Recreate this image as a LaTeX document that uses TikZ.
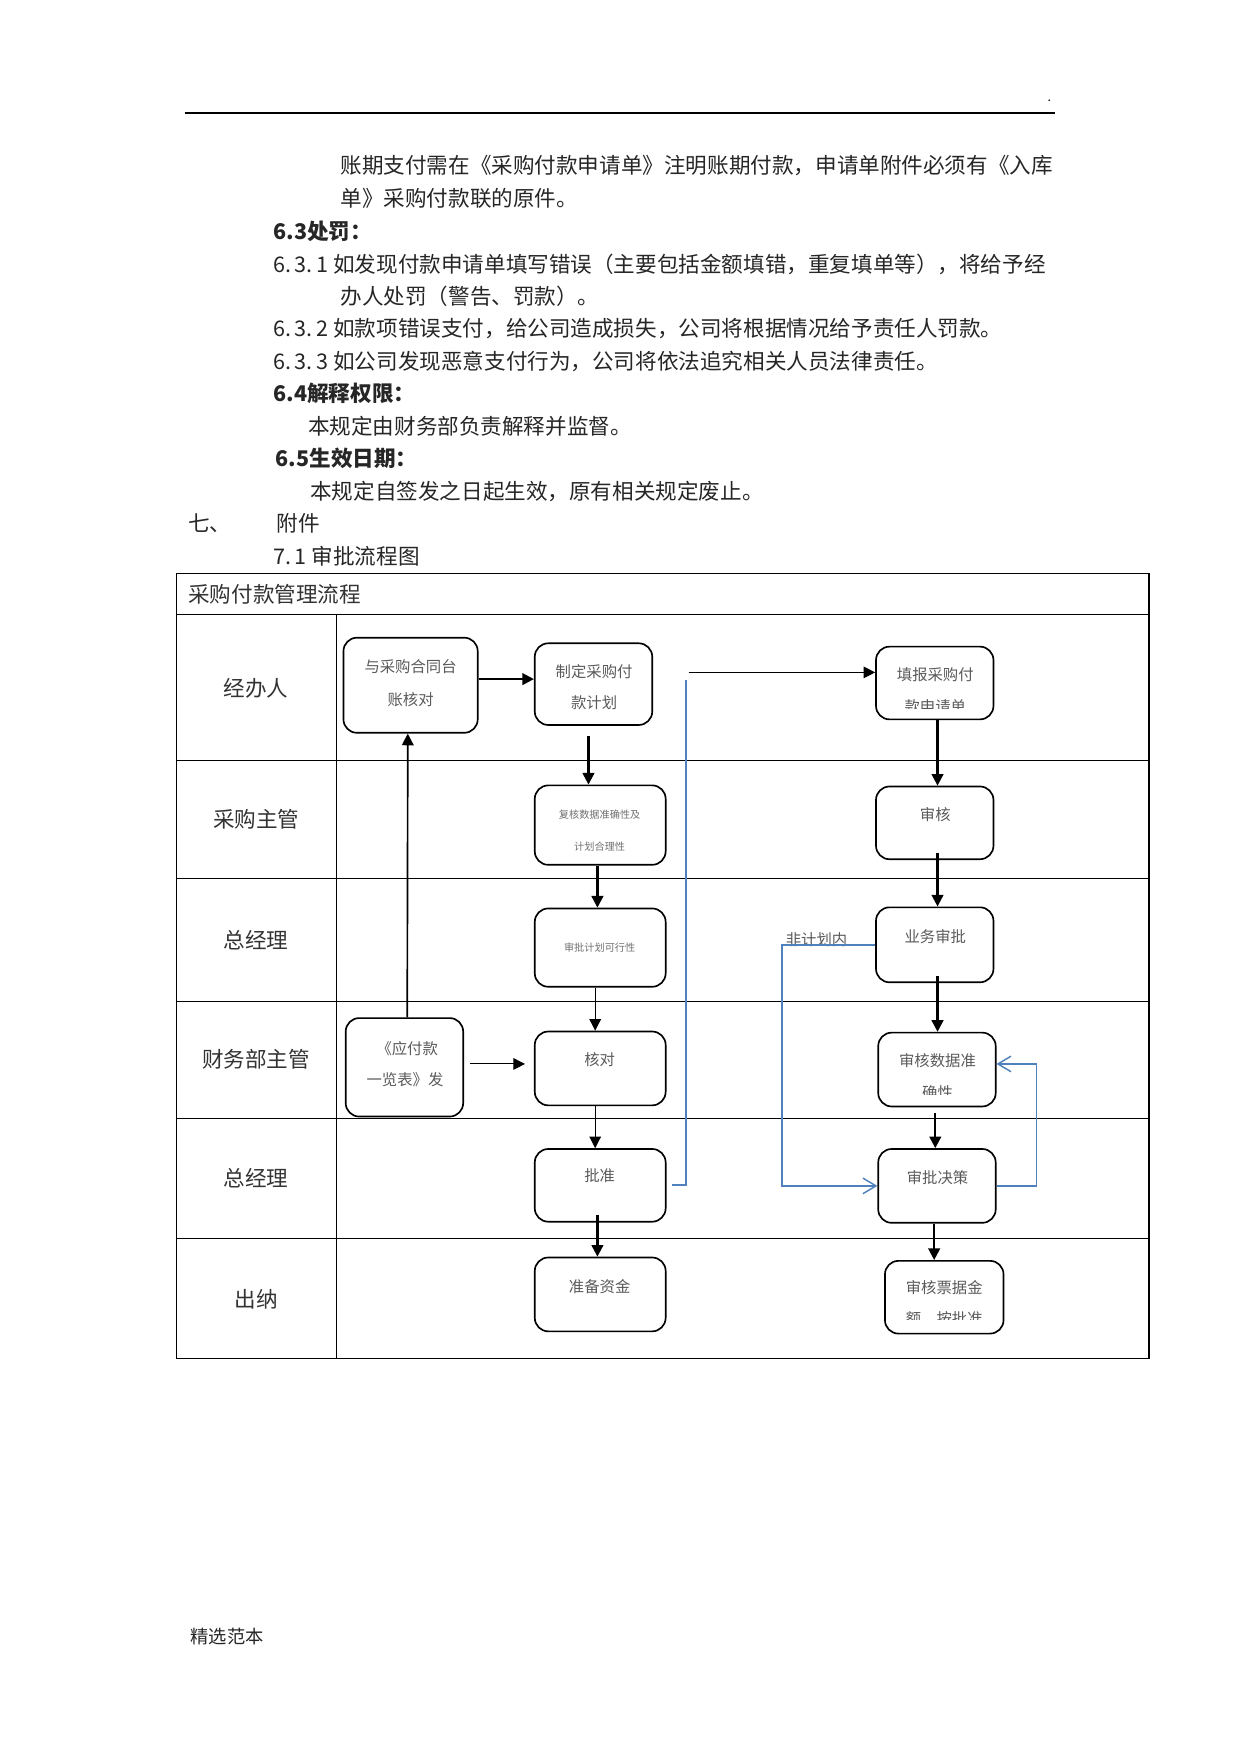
\documentclass[tikz,border=0pt]{standalone}
\usepackage{fontspec}
\setmainfont{Noto Sans CJK SC}
\usetikzlibrary{arrows.meta,calc,fit}
\definecolor{bodytext}{HTML}{262626}
\definecolor{lanetext}{HTML}{333333}
\definecolor{boxtext}{HTML}{5A5A5A}
\definecolor{tinytext}{HTML}{707070}
\definecolor{flowblue}{HTML}{4F81BD}
\begin{document}
\begin{tikzpicture}[x=0.18944mm,y=-0.18944mm,
  body/.style={anchor=west,inner sep=0pt,text=bodytext,font=\fontsize{10.4pt}{12pt}\selectfont},
  headline/.style={anchor=west,inner sep=0pt,text=bodytext,font=\fontsize{10.4pt}{12pt}\selectfont\bfseries},
  lane/.style={inner sep=0pt,text=lanetext,font=\fontsize{10.4pt}{12pt}\selectfont},
  tabline/.style={line width=0.5pt,black},
  flowbox/.style={draw,line width=0.8pt,rounded corners=6.5pt,inner sep=0pt},
  btxt/.style={inner sep=0pt,text=boxtext,font=\fontsize{7.4pt}{9pt}\selectfont},
  tiny/.style={inner sep=0pt,text=tinytext,font=\fontsize{4.9pt}{6pt}\selectfont},
  thickarr/.style={line width=1.1pt,-{Triangle[length=5.6pt,width=5.6pt]}},
  midarr/.style={line width=0.8pt,-{Triangle[length=5.6pt,width=5.6pt]}},
  thinarr/.style={line width=0.5pt,-{Triangle[length=5.6pt,width=5.6pt]}},
  blueline/.style={line width=0.7pt,flowblue},
  bluearr/.style={line width=0.7pt,flowblue,-{Straight Barb[length=6.3pt,width=7.5pt]}}
]
\useasboundingbox (0,0) rectangle (1108.5,1567.8);

% header
\draw[line width=0.5pt] (165,101) coordinate (hl) -- (943,101) coordinate (hr);
\node[inner sep=0pt,font=\fontsize{6pt}{7pt}\selectfont] (hdot) at (938,90) {.};

% body text
\node[body] (t1) at (304,148) {账期支付需在《采购付款申请单》注明账期付款，申请单附件必须有《入库};
\node[body] (t2) at (304,177) {单》采购付款联的原件。};
\node[headline] (t3) at (244,207) {6.3处罚：};
\node[body] (t4) at (244,236) {6.\,3.\,1 如发现付款申请单填写错误（主要包括金额填错，重复填单等），将给予经};
\node[body] (t5) at (304,265) {办人处罚（警告、罚款）。};
\node[body] (t6) at (244,294) {6.\,3.\,2 如款项错误支付，给公司造成损失，公司将根据情况给予责任人罚款。};
\node[body] (t7) at (244,323) {6.\,3.\,3 如公司发现恶意支付行为，公司将依法追究相关人员法律责任。};
\node[headline] (t8) at (244,352) {6.4解释权限：};
\node[body] (t9) at (275,381) {本规定由财务部负责解释并监督。};
\node[headline] (t10) at (246,410) {6.5生效日期：};
\node[body] (t11) at (277,439) {本规定自签发之日起生效，原有相关规定废止。};
\node[body] (t12a) at (168,468) {七、};
\node[body] (t12b) at (247,468) {附件};
\node[body] (t13) at (244,497) {7.\,1 审批流程图};

% table
\draw[tabline] (158,513) rectangle (1027,1214);
\draw[tabline] (158,549) -- (1027,549);
\draw[tabline] (301,549) -- (301,1214);
\foreach \yy in {680,785,895,1000,1107} {\draw[tabline] (158,\yy) -- (1027,\yy);}
\node[lane,anchor=west] (title) at (168,531) {采购付款管理流程};
\node[lane] (l1) at (229,615) {经办人};
\node[lane] (l2) at (229,732) {采购主管};
\node[lane] (l3) at (229,840) {总经理};
\node[lane] (l4) at (229,947) {财务部主管};
\node[lane] (l5) at (229,1053) {总经理};
\node[lane] (l6) at (229,1161) {出纳};

% boxes
\node[flowbox,fit={(307,570) (427,655)}] (A) {};
\node[flowbox,fit={(478,575) (583,648)}] (B) {};
\node[flowbox,fit={(783,578) (888,643)}] (C) {};
\node[flowbox,fit={(478,702) (595,773)}] (D) {};
\node[flowbox,fit={(478,812) (595,882)}] (E) {};
\node[flowbox,fit={(478,922) (595,988)}] (F) {};
\node[flowbox,fit={(478,1027) (595,1092)}] (G) {};
\node[flowbox,fit={(478,1124) (595,1190)}] (H) {};
\node[flowbox,fit={(309,910) (414,998)}] (I) {};
\node[flowbox,fit={(783,703) (888,768)}] (J) {};
\node[flowbox,fit={(783,811) (888,878)}] (K) {};
\node[flowbox,fit={(785,923) (890,989)}] (L) {};
\node[flowbox,fit={(785,1027) (890,1093)}] (M) {};
\node[flowbox,fit={(791,1127) (897,1192)}] (N) {};

% box texts
\node[btxt] (A1) at (367,596) {与采购合同台};
\node[btxt] (A2) at (367,625) {账核对};
\node[btxt] (B1) at (531,600) {制定采购付};
\node[btxt] (B2) at (531,628) {款计划};
\node[btxt] (C1) at (836,603) {填报采购付};
\begin{scope}
  \clip (784,610) rectangle (887,633);
  \node[btxt] (C2) at (836,632) {款申请单};
\end{scope}
\node[tiny] (D1) at (536,728) {复核数据准确性及};
\node[tiny] (D2) at (536,757) {计划合理性};
\node[tiny] (E1) at (536,847) {审批计划可行性};
\node[btxt] (F1) at (536,947) {核对};
\node[btxt] (G1) at (536,1051) {批准};
\node[btxt] (H1) at (536,1150) {准备资金};
\node[btxt] (I1) at (364,937) {《应付款};
\node[btxt] (I2) at (362,965) {一览表》发};
\node[btxt] (J1) at (836,728) {审核};
\node[btxt] (K1) at (836,837) {业务审批};
\node[btxt] (L1) at (838,948) {审核数据准};
\begin{scope}
  \clip (786,960) rectangle (889,978);
  \node[btxt] (L2) at (838,977) {确性};
\end{scope}
\node[btxt] (M1) at (838,1053) {审批决策};
\node[btxt] (N1) at (844,1151) {审核票据金};
\begin{scope}
  \clip (792,1165) rectangle (896,1179);
  \node[btxt] (N2) at (844,1179) {额，按批准};
\end{scope}
\node[btxt,anchor=west] (nplan) at (702,840) {非计划内};

% black connectors
\draw[thickarr] ($(A.east)+(0,-5.5)$) -- ($(B.west)+(0,-4.5)$);
\draw[thickarr] ($(B.south)+(-4.5,9)$) -- ($(D.north)+(-10.5,0)$);
\draw[thickarr] ($(D.south)+(-2.5,0)$) -- ($(E.north)+(-2.5,0)$);
\draw[thinarr] ($(E.south)+(-4.5,0)$) -- ($(F.north)+(-4.5,0)$);
\draw[thinarr] ($(F.south)+(-4.5,0)$) -- ($(G.north)+(-4.5,0)$);
\draw[thickarr] ($(G.south)+(-2.5,-7)$) -- ($(H.north)+(-2.5,0)$);
\draw[midarr] ($(I.north)+(2.5,0)$) -- ($(A.south)+(-2.5,0)$);
\draw[thinarr] ($(I.east)+(5.5,-3)$) -- ($(F.west)+(-8,-4)$);
\coordinate (cstart) at (615.5,601);
\draw[thinarr] (cstart) -- ($(C.west)+(0,-9.5)$);
\draw[thickarr] ($(C.south)+(2.5,0)$) -- ($(J.north)+(2.5,0)$);
\draw[thickarr] ($(J.south)+(2.5,-6)$) -- ($(K.north)+(2.5,0)$);
\draw[thickarr] ($(K.south)+(2.5,-6)$) -- ($(L.north)+(0.5,0)$);
\draw[thickarr] ($(L.south)+(-1.5,5)$) -- ($(M.north)+(-1.5,0)$);
\draw[thickarr] ($(M.south)+(-2.5,0)$) -- ($(N.north)+(-9,0)$);

% blue connectors
\coordinate (btop) at (613,607.5);
\draw[blueline] ($(G.east)+(5,-0.5)$) -| (btop);
\coordinate (bleft) at (699,1060);
\draw[bluearr] (K.west) -| (bleft) -- (M.west);
\draw[bluearr] (M.east) -| ($(L.east)+(35.5,-5)$) -- ($(L.east)+(0,-5)$);

% footer
\node[inner sep=0pt,anchor=west,text=bodytext,font=\fontsize{8.8pt}{10pt}\selectfont] (foot) at (170,1463) {精选范本};
\end{tikzpicture}
\end{document}
